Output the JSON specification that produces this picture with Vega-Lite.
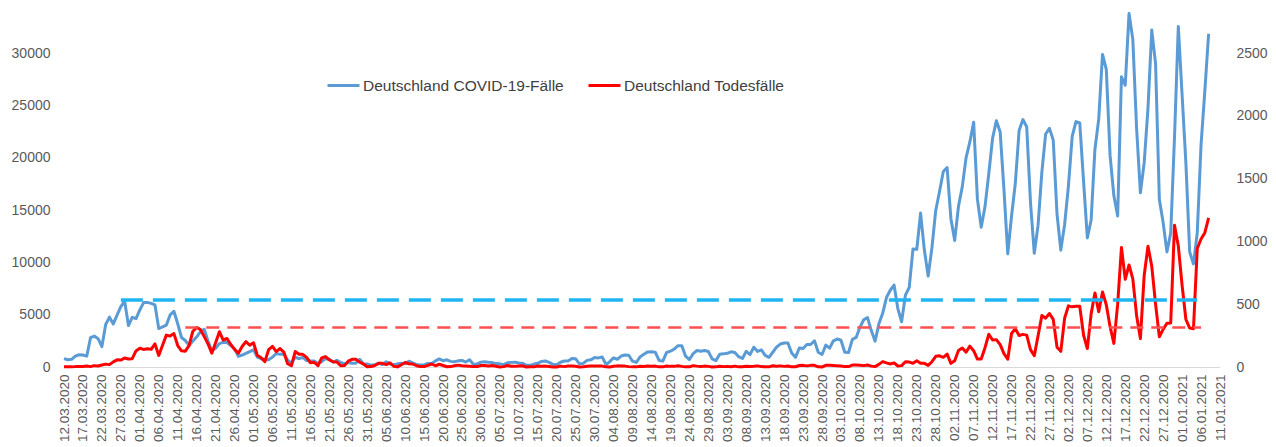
{
  "$schema": "https://vega.github.io/schema/vega-lite/v6.json",
  "width": 1156,
  "height": 361,
  "autosize": "none",
  "padding": {"left": 64, "top": 6, "right": 56, "bottom": 80},
  "background": "#ffffff",
  "config": {"font": "Liberation Sans", "view": {"stroke": null}},
  "datasets": {
    "daily": [
      {"date":"2020-03-12","cases":802,"deaths":1},{"date":"2020-03-13","cases":693,"deaths":2},{"date":"2020-03-14","cases":733,"deaths":1},{"date":"2020-03-15","cases":1043,"deaths":3},{"date":"2020-03-16","cases":1174,"deaths":4},{"date":"2020-03-17","cases":1144,"deaths":4},{"date":"2020-03-18","cases":1042,"deaths":8},{"date":"2020-03-19","cases":2801,"deaths":3},{"date":"2020-03-20","cases":2958,"deaths":11},{"date":"2020-03-21","cases":2705,"deaths":8},{"date":"2020-03-22","cases":1948,"deaths":16},{"date":"2020-03-23","cases":4062,"deaths":23},{"date":"2020-03-24","cases":4764,"deaths":19},{"date":"2020-03-25","cases":4118,"deaths":41},{"date":"2020-03-26","cases":4954,"deaths":57},{"date":"2020-03-27","cases":5780,"deaths":55},{"date":"2020-03-28","cases":6294,"deaths":72},{"date":"2020-03-29","cases":3965,"deaths":64},{"date":"2020-03-30","cases":4751,"deaths":66},{"date":"2020-03-31","cases":4615,"deaths":128},
      {"date":"2020-04-01","cases":5453,"deaths":149},{"date":"2020-04-02","cases":6156,"deaths":140},{"date":"2020-04-03","cases":6174,"deaths":145},{"date":"2020-04-04","cases":6082,"deaths":141},{"date":"2020-04-05","cases":5936,"deaths":184},{"date":"2020-04-06","cases":3677,"deaths":92},{"date":"2020-04-07","cases":3834,"deaths":173},{"date":"2020-04-08","cases":4003,"deaths":254},{"date":"2020-04-09","cases":4974,"deaths":246},{"date":"2020-04-10","cases":5323,"deaths":266},{"date":"2020-04-11","cases":4133,"deaths":171},{"date":"2020-04-12","cases":2821,"deaths":129},{"date":"2020-04-13","cases":2537,"deaths":126},{"date":"2020-04-14","cases":2082,"deaths":170},{"date":"2020-04-15","cases":2486,"deaths":285},{"date":"2020-04-16","cases":2866,"deaths":315},{"date":"2020-04-17","cases":3380,"deaths":299},{"date":"2020-04-18","cases":3609,"deaths":242},{"date":"2020-04-19","cases":2458,"deaths":184},{"date":"2020-04-20","cases":1550,"deaths":110},{"date":"2020-04-21","cases":1785,"deaths":194},{"date":"2020-04-22","cases":2237,"deaths":281},{"date":"2020-04-23","cases":2352,"deaths":215},{"date":"2020-04-24","cases":2337,"deaths":227},{"date":"2020-04-25","cases":2055,"deaths":179},{"date":"2020-04-26","cases":1737,"deaths":140},{"date":"2020-04-27","cases":1018,"deaths":110},{"date":"2020-04-28","cases":1144,"deaths":163},{"date":"2020-04-29","cases":1304,"deaths":202},{"date":"2020-04-30","cases":1478,"deaths":173},
      {"date":"2020-05-01","cases":1639,"deaths":193},{"date":"2020-05-02","cases":945,"deaths":94},{"date":"2020-05-03","cases":793,"deaths":74},{"date":"2020-05-04","cases":697,"deaths":43},{"date":"2020-05-05","cases":685,"deaths":139},{"date":"2020-05-06","cases":947,"deaths":165},{"date":"2020-05-07","cases":1284,"deaths":123},{"date":"2020-05-08","cases":1209,"deaths":147},{"date":"2020-05-09","cases":1251,"deaths":119},{"date":"2020-05-10","cases":667,"deaths":26},{"date":"2020-05-11","cases":357,"deaths":10},{"date":"2020-05-12","cases":933,"deaths":123},{"date":"2020-05-13","cases":798,"deaths":101},{"date":"2020-05-14","cases":913,"deaths":101},{"date":"2020-05-15","cases":620,"deaths":77},{"date":"2020-05-16","cases":583,"deaths":34},{"date":"2020-05-17","cases":583,"deaths":38},{"date":"2020-05-18","cases":342,"deaths":10},{"date":"2020-05-19","cases":513,"deaths":72},{"date":"2020-05-20","cases":797,"deaths":83},{"date":"2020-05-21","cases":745,"deaths":57},{"date":"2020-05-22","cases":460,"deaths":42},{"date":"2020-05-23","cases":638,"deaths":40},{"date":"2020-05-24","cases":431,"deaths":10},{"date":"2020-05-25","cases":289,"deaths":11},{"date":"2020-05-26","cases":432,"deaths":47},{"date":"2020-05-27","cases":362,"deaths":61},{"date":"2020-05-28","cases":353,"deaths":62},{"date":"2020-05-29","cases":741,"deaths":39},{"date":"2020-05-30","cases":286,"deaths":24},{"date":"2020-05-31","cases":286,"deaths":2},
      {"date":"2020-06-01","cases":181,"deaths":3},{"date":"2020-06-02","cases":213,"deaths":12},{"date":"2020-06-03","cases":342,"deaths":29},{"date":"2020-06-04","cases":242,"deaths":29},{"date":"2020-06-05","cases":507,"deaths":19},{"date":"2020-06-06","cases":301,"deaths":33},{"date":"2020-06-07","cases":214,"deaths":6},{"date":"2020-06-08","cases":301,"deaths":1},{"date":"2020-06-09","cases":350,"deaths":18},{"date":"2020-06-10","cases":318,"deaths":36},{"date":"2020-06-11","cases":555,"deaths":26},{"date":"2020-06-12","cases":394,"deaths":24},{"date":"2020-06-13","cases":248,"deaths":10},{"date":"2020-06-14","cases":186,"deaths":3},{"date":"2020-06-15","cases":192,"deaths":3},{"date":"2020-06-16","cases":345,"deaths":13},{"date":"2020-06-17","cases":345,"deaths":24},{"date":"2020-06-18","cases":580,"deaths":10},{"date":"2020-06-19","cases":770,"deaths":22},{"date":"2020-06-20","cases":601,"deaths":12},{"date":"2020-06-21","cases":687,"deaths":2},{"date":"2020-06-22","cases":537,"deaths":3},{"date":"2020-06-23","cases":503,"deaths":10},{"date":"2020-06-24","cases":587,"deaths":15},{"date":"2020-06-25","cases":630,"deaths":10},{"date":"2020-06-26","cases":477,"deaths":8},{"date":"2020-06-27","cases":687,"deaths":6},{"date":"2020-06-28","cases":256,"deaths":3},{"date":"2020-06-29","cases":298,"deaths":3},{"date":"2020-06-30","cases":466,"deaths":12},
      {"date":"2020-07-01","cases":503,"deaths":12},{"date":"2020-07-02","cases":446,"deaths":8},{"date":"2020-07-03","cases":422,"deaths":12},{"date":"2020-07-04","cases":327,"deaths":6},{"date":"2020-07-05","cases":300,"deaths":0},{"date":"2020-07-06","cases":219,"deaths":3},{"date":"2020-07-07","cases":397,"deaths":12},{"date":"2020-07-08","cases":442,"deaths":6},{"date":"2020-07-09","cases":446,"deaths":5},{"date":"2020-07-10","cases":378,"deaths":8},{"date":"2020-07-11","cases":352,"deaths":9},{"date":"2020-07-12","cases":159,"deaths":0},{"date":"2020-07-13","cases":159,"deaths":2},{"date":"2020-07-14","cases":280,"deaths":1},{"date":"2020-07-15","cases":351,"deaths":8},{"date":"2020-07-16","cases":534,"deaths":6},{"date":"2020-07-17","cases":583,"deaths":7},{"date":"2020-07-18","cases":440,"deaths":4},{"date":"2020-07-19","cases":252,"deaths":0},{"date":"2020-07-20","cases":213,"deaths":0},{"date":"2020-07-21","cases":454,"deaths":7},{"date":"2020-07-22","cases":570,"deaths":3},{"date":"2020-07-23","cases":569,"deaths":8},{"date":"2020-07-24","cases":815,"deaths":8},{"date":"2020-07-25","cases":781,"deaths":6},{"date":"2020-07-26","cases":305,"deaths":0},{"date":"2020-07-27","cases":340,"deaths":2},{"date":"2020-07-28","cases":633,"deaths":6},{"date":"2020-07-29","cases":684,"deaths":7},{"date":"2020-07-30","cases":902,"deaths":7},{"date":"2020-07-31","cases":870,"deaths":7},
      {"date":"2020-08-01","cases":955,"deaths":7},{"date":"2020-08-02","cases":240,"deaths":1},{"date":"2020-08-03","cases":509,"deaths":0},{"date":"2020-08-04","cases":879,"deaths":6},{"date":"2020-08-05","cases":741,"deaths":9},{"date":"2020-08-06","cases":1045,"deaths":7},{"date":"2020-08-07","cases":1147,"deaths":7},{"date":"2020-08-08","cases":1122,"deaths":3},{"date":"2020-08-09","cases":555,"deaths":1},{"date":"2020-08-10","cases":436,"deaths":1},{"date":"2020-08-11","cases":966,"deaths":6},{"date":"2020-08-12","cases":1226,"deaths":4},{"date":"2020-08-13","cases":1445,"deaths":8},{"date":"2020-08-14","cases":1449,"deaths":6},{"date":"2020-08-15","cases":1415,"deaths":7},{"date":"2020-08-16","cases":625,"deaths":1},{"date":"2020-08-17","cases":561,"deaths":1},{"date":"2020-08-18","cases":1390,"deaths":8},{"date":"2020-08-19","cases":1510,"deaths":5},{"date":"2020-08-20","cases":1707,"deaths":5},{"date":"2020-08-21","cases":2034,"deaths":10},{"date":"2020-08-22","cases":2034,"deaths":5},{"date":"2020-08-23","cases":1040,"deaths":1},{"date":"2020-08-24","cases":711,"deaths":1},{"date":"2020-08-25","cases":1278,"deaths":11},{"date":"2020-08-26","cases":1576,"deaths":7},{"date":"2020-08-27","cases":1507,"deaths":4},{"date":"2020-08-28","cases":1571,"deaths":7},{"date":"2020-08-29","cases":1479,"deaths":5},{"date":"2020-08-30","cases":782,"deaths":0},{"date":"2020-08-31","cases":610,"deaths":1},
      {"date":"2020-09-01","cases":1218,"deaths":6},{"date":"2020-09-02","cases":1256,"deaths":3},{"date":"2020-09-03","cases":1311,"deaths":5},{"date":"2020-09-04","cases":1453,"deaths":2},{"date":"2020-09-05","cases":1378,"deaths":7},{"date":"2020-09-06","cases":988,"deaths":1},{"date":"2020-09-07","cases":814,"deaths":2},{"date":"2020-09-08","cases":1499,"deaths":6},{"date":"2020-09-09","cases":1176,"deaths":4},{"date":"2020-09-10","cases":1892,"deaths":6},{"date":"2020-09-11","cases":1484,"deaths":9},{"date":"2020-09-12","cases":1630,"deaths":3},{"date":"2020-09-13","cases":1105,"deaths":2},{"date":"2020-09-14","cases":927,"deaths":1},{"date":"2020-09-15","cases":1407,"deaths":10},{"date":"2020-09-16","cases":1901,"deaths":6},{"date":"2020-09-17","cases":2194,"deaths":9},{"date":"2020-09-18","cases":2297,"deaths":5},{"date":"2020-09-19","cases":2297,"deaths":8},{"date":"2020-09-20","cases":1345,"deaths":1},{"date":"2020-09-21","cases":922,"deaths":2},{"date":"2020-09-22","cases":1821,"deaths":12},{"date":"2020-09-23","cases":1769,"deaths":13},{"date":"2020-09-24","cases":2143,"deaths":9},{"date":"2020-09-25","cases":2153,"deaths":13},{"date":"2020-09-26","cases":2507,"deaths":13},{"date":"2020-09-27","cases":1411,"deaths":1},{"date":"2020-09-28","cases":1192,"deaths":0},{"date":"2020-09-29","cases":2089,"deaths":13},{"date":"2020-09-30","cases":1798,"deaths":13},
      {"date":"2020-10-01","cases":2503,"deaths":12},{"date":"2020-10-02","cases":2673,"deaths":9},{"date":"2020-10-03","cases":2563,"deaths":8},{"date":"2020-10-04","cases":1411,"deaths":3},{"date":"2020-10-05","cases":1382,"deaths":3},{"date":"2020-10-06","cases":2639,"deaths":15},{"date":"2020-10-07","cases":2828,"deaths":16},{"date":"2020-10-08","cases":3800,"deaths":14},{"date":"2020-10-09","cases":4516,"deaths":11},{"date":"2020-10-10","cases":4721,"deaths":16},{"date":"2020-10-11","cases":3483,"deaths":7},{"date":"2020-10-12","cases":2467,"deaths":3},{"date":"2020-10-13","cases":4122,"deaths":21},{"date":"2020-10-14","cases":5132,"deaths":43},{"date":"2020-10-15","cases":6638,"deaths":33},{"date":"2020-10-16","cases":7334,"deaths":24},{"date":"2020-10-17","cases":7830,"deaths":33},{"date":"2020-10-18","cases":5587,"deaths":8},{"date":"2020-10-19","cases":4325,"deaths":11},{"date":"2020-10-20","cases":6868,"deaths":42},{"date":"2020-10-21","cases":7595,"deaths":39},{"date":"2020-10-22","cases":11287,"deaths":30},{"date":"2020-10-23","cases":11242,"deaths":49},{"date":"2020-10-24","cases":14714,"deaths":29},{"date":"2020-10-25","cases":11176,"deaths":29},{"date":"2020-10-26","cases":8685,"deaths":13},{"date":"2020-10-27","cases":11409,"deaths":42},{"date":"2020-10-28","cases":14964,"deaths":85},{"date":"2020-10-29","cases":16774,"deaths":89},{"date":"2020-10-30","cases":18681,"deaths":77},{"date":"2020-10-31","cases":19059,"deaths":103},
      {"date":"2020-11-01","cases":14177,"deaths":29},{"date":"2020-11-02","cases":12097,"deaths":49},{"date":"2020-11-03","cases":15352,"deaths":131},{"date":"2020-11-04","cases":17214,"deaths":151},{"date":"2020-11-05","cases":19990,"deaths":118},{"date":"2020-11-06","cases":21506,"deaths":166},{"date":"2020-11-07","cases":23399,"deaths":130},{"date":"2020-11-08","cases":16017,"deaths":63},{"date":"2020-11-09","cases":13363,"deaths":63},{"date":"2020-11-10","cases":15332,"deaths":154},{"date":"2020-11-11","cases":18487,"deaths":261},{"date":"2020-11-12","cases":21866,"deaths":215},{"date":"2020-11-13","cases":23542,"deaths":218},{"date":"2020-11-14","cases":22461,"deaths":178},{"date":"2020-11-15","cases":16947,"deaths":107},{"date":"2020-11-16","cases":10824,"deaths":62},{"date":"2020-11-17","cases":14419,"deaths":267},{"date":"2020-11-18","cases":17561,"deaths":305},{"date":"2020-11-19","cases":22609,"deaths":251},{"date":"2020-11-20","cases":23648,"deaths":260},{"date":"2020-11-21","cases":22964,"deaths":254},{"date":"2020-11-22","cases":15741,"deaths":138},{"date":"2020-11-23","cases":10864,"deaths":90},{"date":"2020-11-24","cases":13554,"deaths":249},{"date":"2020-11-25","cases":18633,"deaths":410},{"date":"2020-11-26","cases":22268,"deaths":389},{"date":"2020-11-27","cases":22806,"deaths":426},{"date":"2020-11-28","cases":21695,"deaths":379},{"date":"2020-11-29","cases":14611,"deaths":158},{"date":"2020-11-30","cases":11169,"deaths":125},
      {"date":"2020-12-01","cases":13604,"deaths":388},{"date":"2020-12-02","cases":17270,"deaths":487},{"date":"2020-12-03","cases":22046,"deaths":479},{"date":"2020-12-04","cases":23449,"deaths":483},{"date":"2020-12-05","cases":23318,"deaths":483},{"date":"2020-12-06","cases":17767,"deaths":255},{"date":"2020-12-07","cases":12332,"deaths":147},{"date":"2020-12-08","cases":14054,"deaths":423},{"date":"2020-12-09","cases":20815,"deaths":590},{"date":"2020-12-10","cases":23679,"deaths":440},{"date":"2020-12-11","cases":29875,"deaths":598},{"date":"2020-12-12","cases":28438,"deaths":496},{"date":"2020-12-13","cases":20200,"deaths":321},{"date":"2020-12-14","cases":16362,"deaths":188},{"date":"2020-12-15","cases":14432,"deaths":500},{"date":"2020-12-16","cases":27728,"deaths":952},{"date":"2020-12-17","cases":26923,"deaths":698},{"date":"2020-12-18","cases":33777,"deaths":813},{"date":"2020-12-19","cases":31300,"deaths":702},{"date":"2020-12-20","cases":22771,"deaths":409},{"date":"2020-12-21","cases":16643,"deaths":226},{"date":"2020-12-22","cases":19528,"deaths":731},{"date":"2020-12-23","cases":24740,"deaths":962},{"date":"2020-12-24","cases":32195,"deaths":802},{"date":"2020-12-25","cases":29000,"deaths":500},{"date":"2020-12-26","cases":16000,"deaths":240},{"date":"2020-12-27","cases":13800,"deaths":300},{"date":"2020-12-28","cases":11000,"deaths":348},{"date":"2020-12-29","cases":12800,"deaths":350},{"date":"2020-12-30","cases":22000,"deaths":1129},{"date":"2020-12-31","cases":32552,"deaths":964},
      {"date":"2021-01-01","cases":26000,"deaths":650},{"date":"2021-01-02","cases":19500,"deaths":380},{"date":"2021-01-03","cases":11000,"deaths":310},{"date":"2021-01-04","cases":9850,"deaths":305},{"date":"2021-01-05","cases":12802,"deaths":944},{"date":"2021-01-06","cases":21237,"deaths":1019},{"date":"2021-01-07","cases":26391,"deaths":1070},{"date":"2021-01-08","cases":31849,"deaths":1188}
    ],
    "refs": [
      {"series":"cases","date":"2020-03-27","end":"2021-01-05","value":6400},
      {"series":"deaths","date":"2020-04-13","end":"2021-01-06","value":315}
    ]
  },
  "encoding": {
    "x": {
      "field": "date",
      "type": "temporal",
      "scale": {"domain": [{"year":2020,"month":3,"date":12},{"year":2021,"month":1,"date":11}]},
      "axis": {
        "title": null,
        "format": "%d.%m.%Y",
        "labelAngle": 270,
        "labelFontSize": 13.5,
        "labelColor": "#595959",
        "labelPadding": 7,
        "labelOverlap": false,
        "labelFlush": false,
        "ticks": false,
        "grid": false,
        "domainColor": "#D9D9D9",
        "domainWidth": 1,
        "values": [
          {"year":2020,"month":3,"date":12},{"year":2020,"month":3,"date":17},{"year":2020,"month":3,"date":22},{"year":2020,"month":3,"date":27},
          {"year":2020,"month":4,"date":1},{"year":2020,"month":4,"date":6},{"year":2020,"month":4,"date":11},{"year":2020,"month":4,"date":16},{"year":2020,"month":4,"date":21},{"year":2020,"month":4,"date":26},
          {"year":2020,"month":5,"date":1},{"year":2020,"month":5,"date":6},{"year":2020,"month":5,"date":11},{"year":2020,"month":5,"date":16},{"year":2020,"month":5,"date":21},{"year":2020,"month":5,"date":26},{"year":2020,"month":5,"date":31},
          {"year":2020,"month":6,"date":5},{"year":2020,"month":6,"date":10},{"year":2020,"month":6,"date":15},{"year":2020,"month":6,"date":20},{"year":2020,"month":6,"date":25},{"year":2020,"month":6,"date":30},
          {"year":2020,"month":7,"date":5},{"year":2020,"month":7,"date":10},{"year":2020,"month":7,"date":15},{"year":2020,"month":7,"date":20},{"year":2020,"month":7,"date":25},{"year":2020,"month":7,"date":30},
          {"year":2020,"month":8,"date":4},{"year":2020,"month":8,"date":9},{"year":2020,"month":8,"date":14},{"year":2020,"month":8,"date":19},{"year":2020,"month":8,"date":24},{"year":2020,"month":8,"date":29},
          {"year":2020,"month":9,"date":3},{"year":2020,"month":9,"date":8},{"year":2020,"month":9,"date":13},{"year":2020,"month":9,"date":18},{"year":2020,"month":9,"date":23},{"year":2020,"month":9,"date":28},
          {"year":2020,"month":10,"date":3},{"year":2020,"month":10,"date":8},{"year":2020,"month":10,"date":13},{"year":2020,"month":10,"date":18},{"year":2020,"month":10,"date":23},{"year":2020,"month":10,"date":28},
          {"year":2020,"month":11,"date":2},{"year":2020,"month":11,"date":7},{"year":2020,"month":11,"date":12},{"year":2020,"month":11,"date":17},{"year":2020,"month":11,"date":22},{"year":2020,"month":11,"date":27},
          {"year":2020,"month":12,"date":2},{"year":2020,"month":12,"date":7},{"year":2020,"month":12,"date":12},{"year":2020,"month":12,"date":17},{"year":2020,"month":12,"date":22},{"year":2020,"month":12,"date":27},
          {"year":2021,"month":1,"date":1},{"year":2021,"month":1,"date":6},{"year":2021,"month":1,"date":11}
        ]
      }
    }
  },
  "layer": [
    {
      "data": {"name": "daily"},
      "mark": {"type": "line", "strokeWidth": 3, "strokeJoin": "round"},
      "encoding": {
        "y": {
          "field": "cases", "type": "quantitative",
          "scale": {"domain": [0, 34500], "nice": false},
          "axis": {"orient": "left", "title": null, "values": [0,5000,10000,15000,20000,25000,30000], "format": "d", "labelFontSize": 14, "labelColor": "#595959", "labelPadding": 14, "ticks": false, "domain": false, "grid": false}
        },
        "color": {
          "datum": "Deutschland COVID-19-Fälle", "type": "nominal",
          "scale": {"domain": ["Deutschland COVID-19-Fälle", "Deutschland Todesfälle"], "range": ["#5B9BD5", "#FF0000"]},
          "legend": {"orient": "none", "legendX": 262, "legendY": 62, "direction": "horizontal", "title": null, "symbolType": "stroke", "symbolStrokeWidth": 3, "symbolSize": 1024, "labelFontSize": 15.5, "labelColor": "#404040", "labelOffset": 2, "labelLimit": 400, "columnPadding": 18, "padding": 0}
        }
      }
    },
    {
      "data": {"name": "daily"},
      "mark": {"type": "line", "strokeWidth": 3, "strokeJoin": "round"},
      "encoding": {
        "y": {
          "field": "deaths", "type": "quantitative",
          "scale": {"domain": [0, 2875], "nice": false},
          "axis": {"orient": "right", "title": null, "values": [0,500,1000,1500,2000,2500], "format": "d", "labelFontSize": 14, "labelColor": "#595959", "labelPadding": 16, "ticks": false, "domain": false, "grid": false}
        },
        "color": {"datum": "Deutschland Todesfälle", "type": "nominal"}
      }
    },
    {
      "data": {"name": "refs"},
      "transform": [{"filter": "datum.series === 'cases'"}],
      "mark": {"type": "rule", "color": "#1FB5F2", "strokeWidth": 3.5, "strokeDash": [22, 10], "strokeCap": "butt"},
      "encoding": {
        "x2": {"field": "end"},
        "y": {"field": "value", "type": "quantitative", "scale": {"domain": [0, 34500], "nice": false}, "axis": null}
      }
    },
    {
      "data": {"name": "refs"},
      "transform": [{"filter": "datum.series === 'deaths'"}],
      "mark": {"type": "rule", "color": "#FF5050", "strokeWidth": 2.5, "strokeDash": [13, 8], "strokeCap": "butt"},
      "encoding": {
        "x2": {"field": "end"},
        "y": {"field": "value", "type": "quantitative", "scale": {"domain": [0, 2875], "nice": false}, "axis": null}
      }
    }
  ],
  "resolve": {"scale": {"y": "independent"}}
}
